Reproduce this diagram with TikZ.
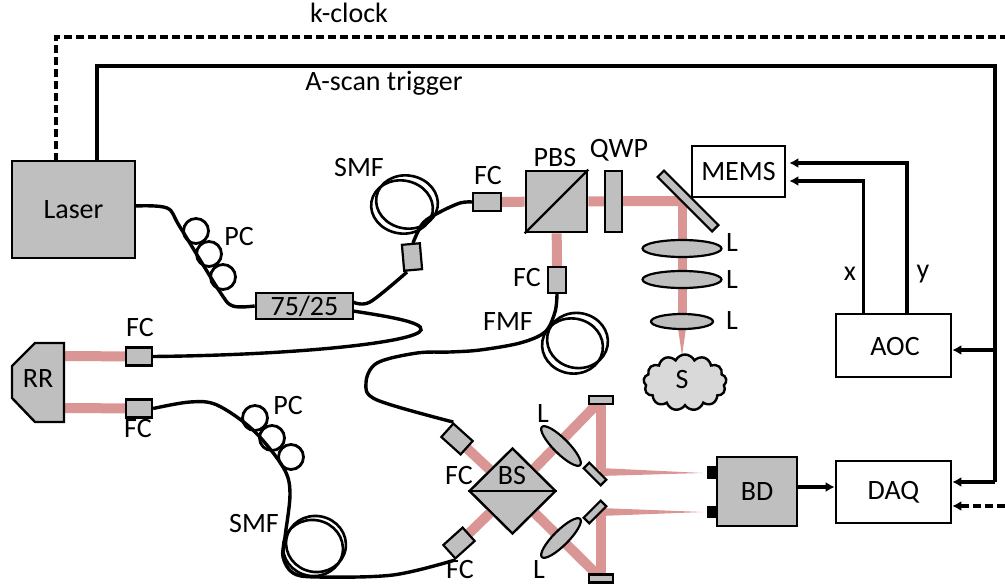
\documentclass[tikz,border=0pt]{standalone}
\usepackage{fontspec}
\setmainfont{Carlito}
\usetikzlibrary{arrows.meta,backgrounds,shapes.geometric,shapes.symbols}
\definecolor{part}{HTML}{BFBFBF}
\definecolor{cloudFill}{HTML}{D9D9D9}
\definecolor{beamCol}{HTML}{D99694}
\tikzset{
  lbl/.style={inner sep=0pt, font=\fontsize{28}{30}\selectfont},
  box/.style={draw=black, line width=2.6pt, fill=white, inner sep=0pt, font=\fontsize{28}{30}\selectfont},
  gbox/.style={box, fill=part},
  fc/.style={draw=black, line width=2.2pt, fill=part, minimum width=26pt, minimum height=18pt, inner sep=0pt},
  tiny mirror/.style={draw=black, line width=2.2pt, fill=part, minimum width=24pt, minimum height=8pt, inner sep=0pt},
  lens/.style={ellipse, draw=black, line width=2.2pt, fill=part, inner sep=0pt},
  loop/.style={ellipse, draw=black, line width=2.6pt, minimum width=62pt, minimum height=53pt, inner sep=0pt},
  pad/.style={circle, draw=black, line width=2.8pt, minimum size=25pt, inner sep=0pt},
  fiber/.style={draw=black, line width=3.4pt},
  sig/.style={draw=black, line width=3.4pt, -{Latex[length=9pt,width=10pt]}},
  wire/.style={draw=black, line width=3.4pt},
  clk/.style={draw=black, line width=3.2pt, dash pattern=on 8pt off 4pt},
  beam/.style={draw=beamCol, line width=10pt},
  taper/.style={fill=beamCol, draw=none},
}
\begin{document}
\begin{tikzpicture}[x=1pt,y=-1pt]
  \useasboundingbox (0,0) rectangle (1005,586);

  % boxes
  \node[gbox, minimum width=123pt, minimum height=97pt] (laser) at (73.5,209.5) {Laser};
  \node[gbox, minimum width=97pt, minimum height=26pt] (coupler) at (304.5,306) {75/25};
  \node[box, minimum width=93pt, minimum height=51pt] (mems) at (738.5,171.5) {MEMS};
  \node[box, minimum width=115pt, minimum height=63pt] (aoc) at (893.5,345.5) {};
  \node[box, minimum width=115pt, minimum height=62pt] (daq) at (893.5,492) {DAQ};
  \node[gbox, minimum width=80pt, minimum height=69pt] (bd) at (757,491.5) {BD};
  \node[lbl] (aoclbl) at (895,347) {AOC};
  \node[draw=black, fill=black, minimum width=10pt, minimum height=12pt, inner sep=0pt] (knoba) at (712,472) {};
  \node[draw=black, fill=black, minimum width=10pt, minimum height=11pt, inner sep=0pt] (knobb) at (712,511.5) {};

  % retro reflector
  \draw[line width=2.4pt, fill=part] (35,343) -- (64,343) -- (64,422) -- (35,422) -- (12,398) -- (12,366) -- cycle;
  \node[lbl] (rr) at (38,379) {RR};
  \coordinate (rrtop) at (64,356);
  \coordinate (rrbot) at (64,408);

  % collimators
  \node[fc] (fcrefa) at (139,356.5) {};
  \node[fc] (fcrefb) at (139,408.5) {};
  \node[fc, minimum width=28pt] (fcin) at (487,202) {};
  \node[fc, rotate=90] (fcfmf) at (557,280) {};
  \node[fc, rotate=-85] (fcsmf) at (412,257) {};
  \node[fc, rotate=-42] (fcbsa) at (457,439) {};
  \node[fc, rotate=42] (fcbsb) at (459,543) {};

  % free space optics
  \node[gbox, minimum size=61pt] (pbs) at (556.5,201.5) {};
  \draw[line width=2.4pt] (pbs.south west) -- (pbs.north east);
  \node[gbox, minimum width=17pt, minimum height=61pt] (qwp) at (613.5,201.5) {};
  \node[draw=black, line width=2.2pt, fill=part, minimum width=77pt, minimum height=9pt, inner sep=0pt, rotate=-45] (galvo) at (688,201) {};
  \node[lens, minimum width=79pt, minimum height=17pt] (lensa) at (682,248.5) {};
  \node[lens, minimum width=79pt, minimum height=17pt] (lensb) at (682,279.5) {};
  \node[lens, minimum width=62pt, minimum height=15pt] (lensc) at (682,321.5) {};
  \node[cloud, cloud puffs=13, cloud puff arc=130, aspect=1.5, draw=black, line width=2.4pt, fill=cloudFill, minimum width=83pt, minimum height=56pt, inner sep=0pt] (sample) at (685,382.5) {};
  \node[lbl] (slbl) at (682,380) {S};

  % beam splitter
  \node[diamond, draw=black, line width=2.4pt, fill=part, minimum width=87pt, minimum height=86pt, inner sep=0pt] (bs) at (512.5,491) {};
  \draw[line width=2.4pt] (bs.west) -- (bs.east);
  \node[lbl] (bslbl) at (512,476) {BS};
  \node[tiny mirror] (mirtop) at (601,400) {};
  \node[tiny mirror] (mirbot) at (601,578.5) {};
  \node[tiny mirror, rotate=-45] (mirsa) at (595,474) {};
  \node[tiny mirror, rotate=45] (mirsb) at (595,512) {};
  \node[lens, minimum width=54pt, minimum height=15pt, rotate=-45] (lensd) at (561,446) {};
  \node[lens, minimum width=54pt, minimum height=15pt, rotate=45] (lense) at (561,538) {};

  % beams
  \begin{scope}[on background layer]
    \draw[beam] (rrtop) -- (fcrefa);
    \draw[beam] (rrbot) -- (fcrefb);
    \draw[beam] (fcin) -- (pbs);
    \draw[beam] (pbs) -- (682,201);
    \draw[beam] (pbs) -- (fcfmf);
    \draw[beam, line width=9pt] (682,197) -- (lensc);
    \fill[taper] (678,328) -- (682,356) -- (686,328) -- cycle;
    \draw[beam] (fcbsa) -- (bs);
    \draw[beam] (fcbsb) -- (bs);
    \draw[beam] (bs) -- (mirtop);
    \draw[beam] (bs) -- (mirbot);
    \draw[beam] (mirtop) -- (601,470);
    \draw[beam] (mirbot) -- (601,513);
    \fill[taper] (600,468) -- (703,473) -- (600,476) -- cycle;
    \fill[taper] (600,508) -- (703,512) -- (600,516) -- cycle;
  \end{scope}

  % fibers
  \draw[fiber] plot[smooth, tension=0.55] coordinates {(135,206) (167,208) (180,227) (220,292) (233,306) (coupler.west)};
  \node[pad] (pca) at (196,231) {};
  \node[pad] (pcb) at (209,254) {};
  \node[pad] (pcc) at (223,277) {};

  \draw[fiber] plot[smooth, tension=0.55] coordinates {(353,302) (370,302) (407,272)};
  \draw[fiber] plot[smooth, tension=0.55] coordinates {(413,243) (423,223) (440,212) (460,203) (fcin.west)};
  \node[loop, rotate=-10] (coilaa) at (407,202) {};
  \node[loop, rotate=-10] (coilab) at (402,207) {};
  \draw[fiber] (353,311) .. controls (385,316) and (424,322) .. (421,330) .. controls (417,342) and (300,355) .. (fcrefa.east);

  \draw[fiber] plot[smooth, tension=0.55] coordinates {(fcrefb.east) (190,402) (217,405) (253,430) (283,467) (290,493) (285,537) (283,557) (293,573) (317,577) (393,575) (fcbsb.south west)};
  \node[pad] (pcd) at (255,418) {};
  \node[pad] (pce) at (272,438) {};
  \node[pad] (pcf) at (291,457) {};
  \node[loop, minimum width=60pt, minimum height=56pt, rotate=-10] (coilba) at (316,544) {};
  \node[loop, minimum width=60pt, minimum height=56pt, rotate=-10] (coilbb) at (313,548) {};

  \draw[fiber] plot[smooth, tension=0.55] coordinates {(fcfmf.west) (555,312) (545,332) (520,343) (480,350) (450,352) (417,353) (377,363) (366,383) (377,400) (fcbsa.north west)};
  \node[loop, minimum width=61pt, minimum height=55pt, rotate=-10] (coilca) at (577.5,340.5) {};
  \node[loop, minimum width=61pt, minimum height=55pt, rotate=-10] (coilcb) at (572.5,346) {};

  % signals
  \draw[clk] (56,161) |- (1005,37);
  \draw[wire] (97,161) |- (995,66) -- (995,482);
  \draw[sig] (995,482) -- (daq.east |- 0,482);
  \draw[sig] (995,350) -- (aoc.east |- 0,350);
  \draw[clk, -{Latex[length=9pt,width=10pt]}] (1005,506) -- (daq.east |- 0,506);
  \draw[sig] (bd.east |- 0,487) -- (daq.west |- 0,487);
  \draw[sig, shorten >=3pt] (863.5,314) |- (mems.east |- 0,181);
  \draw[sig, shorten >=3pt] (907,314) |- (mems.east |- 0,163);

  % labels
  \node[lbl] (kclk) at (349,13) {k-clock};
  \node[lbl] (atrig) at (384,83) {A-scan trigger};
  \node[lbl] (lpca) at (239,237) {PC};
  \node[lbl] (lpcb) at (288,406) {PC};
  \node[lbl] (lsmfa) at (359,168) {SMF};
  \node[lbl] (lsmfb) at (254,524) {SMF};
  \node[lbl] (lfmf) at (508,322) {FMF};
  \node[lbl] (lfca) at (140,328) {FC};
  \node[lbl] (lfcb) at (138,429) {FC};
  \node[lbl] (lfcc) at (488,176) {FC};
  \node[lbl] (lfcd) at (527,278) {FC};
  \node[lbl] (lfce) at (459,476) {FC};
  \node[lbl] (lfcf) at (460,570) {FC};
  \node[lbl] (lpbs) at (555,158) {PBS};
  \node[lbl] (lqwp) at (619,150) {QWP};
  \node[lbl] (lla) at (732,243) {L};
  \node[lbl] (llb) at (732,280) {L};
  \node[lbl] (llc) at (732,321) {L};
  \node[lbl] (lld) at (543,414) {L};
  \node[lbl] (lle) at (539,570) {L};
  \node[lbl] (lx) at (850,274) {x};
  \node[lbl] (ly) at (923,274) {y};
\end{tikzpicture}
\end{document}
